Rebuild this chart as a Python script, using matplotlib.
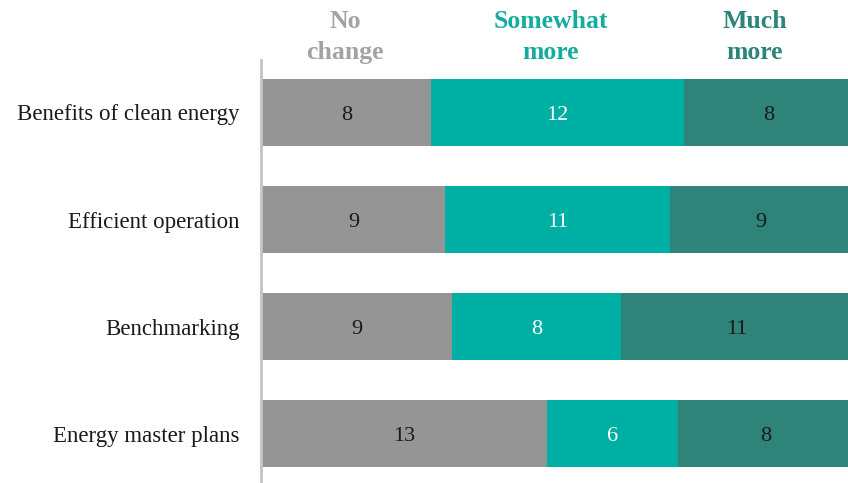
import numpy as np
import matplotlib.pyplot as plt

plt.rcParams['font.family'] = ['Liberation Serif', 'DejaVu Serif']

# Survey counts per topic
topics = ["Benefits of clean energy", "Efficient operation", "Benchmarking", "Energy master plans"]
no_change = [8, 9, 9, 13]
somewhat_more = [12, 11, 8, 6]
much_more = [8, 9, 11, 8]

series_names = ["No\nchange", "Somewhat\nmore", "Much\nmore"]
bar_colors = ['#959595', '#00afa3', '#2e8479']
head_colors = ['#a3a3a3', '#14ac9e', '#2e8479']
text_colors = ['#1a1a1a', 'white', '#1a1a1a']

W, H = 848, 483
fig = plt.figure(figsize=(W / 100, H / 100), dpi=100)
# Axes runs a little past the right edge, so the last segment is cut off
ax = fig.add_axes([262 / W, 0, 591 / W, (H - 60) / H])

counts = np.array([no_change, somewhat_more, much_more], dtype=float)
totals = counts.sum(axis=0)
shares = counts / totals
y = np.arange(len(topics))

left = np.zeros(len(topics))
for i in range(3):
    ax.barh(y, shares[i], left=left, height=0.63, color=bar_colors[i], linewidth=0)
    for j in range(len(topics)):
        ax.text(left[j] + shares[i][j] / 2, y[j] + 0.03, f"{int(counts[i][j])}",
                ha='center', va='center', fontsize=16, color=text_colors[i])
    left += shares[i]

ax.set_xlim(0, 1)
ax.set_ylim(3.46, -0.49)
ax.set_yticks(y)
ax.set_yticklabels(topics)
ax.tick_params(axis='y', length=0, pad=15, labelsize=16.5, labelcolor='#1a1a1a')
ax.set_xticks([])
for s in ['top', 'right', 'bottom']:
    ax.spines[s].set_visible(False)
ax.spines['left'].set_color('#c4c4c4')
ax.spines['left'].set_linewidth(2)
ax.spines['left'].set_position(('outward', 1))

# Column headers above the bars
head_x = [345, 551, 755]
for name, hx, c in zip(series_names, head_x, head_colors):
    fig.text(hx / W, 1 - 37 / H, name, ha='center', va='center', fontsize=18.5,
             fontweight='bold', color=c, linespacing=1.45)

fig.savefig('out.png', dpi=100)
